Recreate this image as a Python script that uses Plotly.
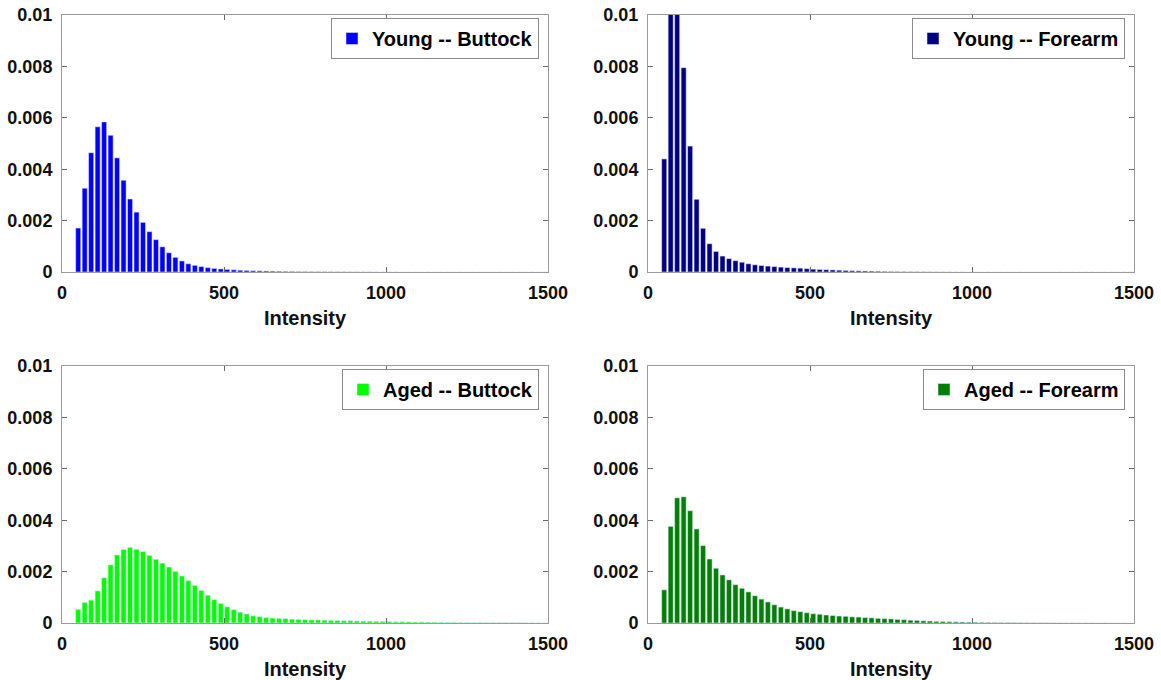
import plotly.graph_objects as go

# Bin centres (intensity), 20-unit bins
intensity = list(range(50, 1500, 20))

young_buttock = [
    0.00171, 0.00326, 0.00464, 0.00565, 0.00584, 0.00532, 0.00444, 0.00357, 0.00284, 0.00233,
    0.00193, 0.00157, 0.00126, 0.00098, 0.00075, 0.00057, 0.00043, 0.00032, 0.00026, 0.00021,
    0.00017, 0.00014, 0.00012, 0.00010, 0.000085, 0.00007, 0.00006, 0.00005, 0.000045, 0.00004,
    0.000035, 0.00003, 0.000027, 0.000024, 0.000021, 0.000018, 0.000016, 0.000014, 0.000012, 0.00001,
    0.000009, 0.000008, 0.000007, 0.000006, 0.000005, 0.000004, 0.000003, 0.000002, 0.000002, 0.000002,
    0.000001, 0.000001, 0.000001, 0.000001, 0.000001, 0.0, 0.0, 0.0, 0.0, 0.0,
    0.0, 0.0, 0.0, 0.0, 0.0, 0.0, 0.0, 0.0, 0.0, 0.0,
    0.0, 0.0, 0.0,
]

young_forearm = [
    0.00440, 0.0115, 0.0106, 0.00795, 0.00490, 0.00283, 0.00170, 0.00110, 0.00080, 0.00062,
    0.00052, 0.00044, 0.00038, 0.00032, 0.00028, 0.00025, 0.00023, 0.00021, 0.00019, 0.00017,
    0.00016, 0.00015, 0.00013, 0.00011, 0.00010, 0.00009, 0.00008, 0.00007, 0.00006, 0.00005,
    0.000045, 0.00004, 0.000035, 0.00003, 0.000025, 0.00002, 0.000018, 0.000015, 0.000012, 0.00001,
    0.000008, 0.000006, 0.000005, 0.000004, 0.000003, 0.000002, 0.000002, 0.000001, 0.000001, 0.000001,
    0.0, 0.0, 0.0, 0.0, 0.0, 0.0, 0.0, 0.0, 0.0, 0.0,
    0.0, 0.0, 0.0, 0.0, 0.0, 0.0, 0.0, 0.0, 0.0, 0.0,
    0.0, 0.0, 0.0,
]

aged_buttock = [
    0.00053, 0.00080, 0.00089, 0.00125, 0.00176, 0.00226, 0.00265, 0.00286, 0.00294, 0.00287,
    0.00278, 0.00263, 0.00248, 0.00233, 0.00218, 0.00201, 0.00183, 0.00165, 0.00146, 0.00127,
    0.00108, 0.00091, 0.00076, 0.00063, 0.00052, 0.00042, 0.00035, 0.00028, 0.00025, 0.00021,
    0.00019, 0.00018, 0.00017, 0.00015, 0.00014, 0.00013, 0.00012, 0.00012, 0.00011, 0.00010,
    0.00010, 0.00009, 0.00009, 0.00008, 0.000075, 0.00007, 0.000065, 0.00006, 0.000055, 0.00005,
    0.000047, 0.000044, 0.00004, 0.000037, 0.000034, 0.000031, 0.000028, 0.000026, 0.000024, 0.000022,
    0.00002, 0.000018, 0.000016, 0.000015, 0.000014, 0.000013, 0.000012, 0.000011, 0.00001, 0.000009,
    0.000008, 0.000007, 0.000006,
]

aged_forearm = [
    0.00129, 0.00376, 0.00487, 0.00491, 0.00437, 0.00366, 0.00301, 0.00249, 0.00213, 0.00187,
    0.00168, 0.00149, 0.00135, 0.00121, 0.00106, 0.00093, 0.00082, 0.00071, 0.00062, 0.00055,
    0.00048, 0.00044, 0.00040, 0.00036, 0.00034, 0.00031, 0.00029, 0.00027, 0.00026, 0.00024,
    0.00023, 0.00021, 0.00020, 0.00018, 0.00017, 0.00016, 0.00014, 0.00013, 0.00011, 0.00010,
    0.000085, 0.000075, 0.000065, 0.000058, 0.00005, 0.000045, 0.00004, 0.000035, 0.00003, 0.000027,
    0.000024, 0.000021, 0.000019, 0.000017, 0.000015, 0.000013, 0.00001, 0.000008, 0.000007, 0.000006,
    0.000005, 0.000005, 0.000004, 0.000004, 0.000003, 0.000003, 0.000002, 0.000002, 0.000002, 0.000001,
    0.000001, 0.000001, 0.0,
]

names = ["Young -- Buttock", "Young -- Forearm", "Aged -- Buttock", "Aged -- Forearm"]
series = [young_buttock, young_forearm, aged_buttock, aged_forearm]
colors = ["#0000FF", "#000080", "#00FF00", "#008000"]

x_ticks = [0, 500, 1000, 1500]
y_ticks = [0, 0.002, 0.004, 0.006, 0.008, 0.01]
y_ticktext = ["0", "0.002", "0.004", "0.006", "0.008", "0.01"]

W, H = 1161, 680
FONT = "Liberation Sans, Arial, sans-serif"

# pixel boxes (left, right, top, bottom)
boxes = [
    (62, 548, 15, 272),
    (648, 1134, 15, 272),
    (62, 548, 366, 623),
    (648, 1134, 366, 623),
]

fig = go.Figure()
layout = dict(
    width=W, height=H,
    margin=dict(l=0, r=0, t=0, b=0, autoexpand=False),
    paper_bgcolor="white", plot_bgcolor="white",
    bargap=0.22,
    font=dict(family=FONT, size=18, color="#111111"),
)

for i, (nm, vals, col, box) in enumerate(zip(names, series, colors, boxes)):
    n = "" if i == 0 else str(i + 1)
    lg = "legend" + n
    fig.add_trace(go.Bar(
        x=intensity, y=vals, name=nm,
        marker=dict(color=col, line=dict(color="rgba(225,230,255,0.9)", width=0.6)),
        xaxis="x" + n, yaxis="y" + n, legend=lg, showlegend=True,
    ))
    l, r, t, b = box
    axcommon = dict(
        showline=True, linecolor="#9a9a9a", linewidth=1, mirror="ticks",
        ticks="inside", ticklen=5, tickcolor="#6a6a6a",
        showgrid=False, zeroline=False, automargin=False,
        tickfont=dict(family=FONT, size=18, color="#111111", weight="bold"),
    )
    layout["xaxis" + n] = dict(
        axcommon, domain=[l / W, r / W], anchor="y" + n,
        range=[0, 1500], tickvals=x_ticks, ticktext=[str(v) for v in x_ticks],
        ticklabelstandoff=4,
        title=dict(text="<b>Intensity</b>", font=dict(family=FONT, size=20, color="#111111"), standoff=9),
    )
    layout["yaxis" + n] = dict(
        axcommon, domain=[1 - b / H, 1 - t / H], anchor="x" + n,
        range=[0, 0.01], tickvals=y_ticks, ticktext=y_ticktext,
        ticklabelstandoff=5,
    )
    layout[lg] = dict(
        x=(r - 9) / W, y=1 - (t + 3) / H, xanchor="right", yanchor="top",
        xref="paper", yref="paper",
        bgcolor="white", bordercolor="#8a8a8a", borderwidth=1,
        font=dict(family=FONT, size=20, color="#000000", weight="bold"),
        tracegroupgap=0, itemwidth=30,
    )

fig.update_layout(**layout)
fig.write_html(
    "out.html",
    config={"displayModeBar": False},
    post_script="document.body.style.margin='0';document.body.style.overflow='hidden';",
)
